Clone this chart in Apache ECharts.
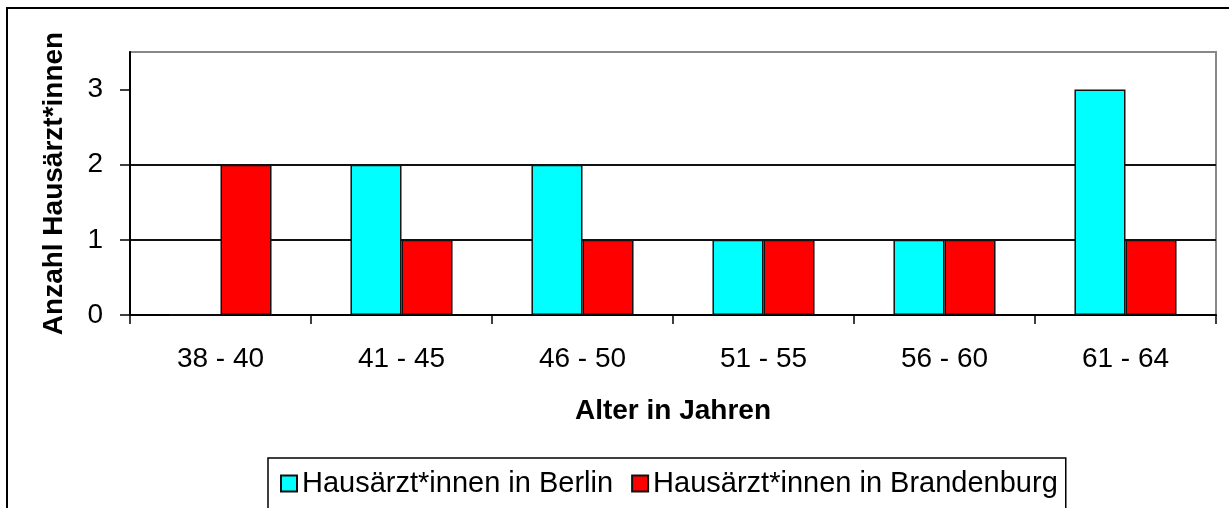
<!DOCTYPE html>
<html>
<head>
<meta charset="utf-8">
<script src="https://cdn.jsdelivr.net/npm/echarts@6/dist/echarts.min.js"></script>
<style>
html,body{margin:0;padding:0;background:#fff;}
#chart{width:1229px;height:508px;}
</style>
</head>
<body>
<div id="chart"></div>
<script>
const categories = ['38 - 40', '41 - 45', '46 - 50', '51 - 55', '56 - 60', '61 - 64'];
const berlin = [0, 2, 2, 1, 1, 3];
const brandenburg = [2, 1, 1, 1, 1, 1];
const yTicks = [0, 1, 2, 3];
const seriesNames = ['Hausärzt*innen in Berlin', 'Hausärzt*innen in Brandenburg'];
const xTitle = 'Alter in Jahren';
const yTitle = 'Anzahl Hausärzt*innen';

const FONT = '"Liberation Sans", Arial, sans-serif';
const chart = echarts.init(document.getElementById('chart'), null, {renderer: 'canvas'});
chart.setOption({
  animation: false,
  backgroundColor: '#fff',
  textStyle: {fontFamily: FONT},
  graphic: [{
    type: 'rect',
    shape: {x: 7, y: 8, width: 1240, height: 520},
    style: {fill: 'none', stroke: '#000', lineWidth: 2},
    silent: true, z: -1
  }],
  grid: {
    left: 130, right: 13, top: 52, bottom: 193,
    show: true, borderColor: '#888', borderWidth: 2, backgroundColor: '#fff'
  },
  legend: {
    left: 268, top: 458,
    padding: [11, 8, 11, 12],
    itemGap: 18,
    itemWidth: 16, itemHeight: 16,
    icon: 'rect',
    borderColor: '#000', borderWidth: 1.5,
    textStyle: {fontSize: 29, color: '#000', fontFamily: FONT},
    data: seriesNames
  },
  xAxis: {
    type: 'category',
    data: categories,
    boundaryGap: true,
    name: xTitle,
    nameLocation: 'middle',
    nameGap: 82,
    nameTextStyle: {fontSize: 28, fontWeight: 'bold', color: '#000', fontFamily: FONT},
    axisLine: {show: true, lineStyle: {color: '#000', width: 2}},
    axisTick: {show: true, length: 9, lineStyle: {color: '#000', width: 1.5}, alignWithLabel: false},
    axisLabel: {fontSize: 28, color: '#000', margin: 30, fontFamily: FONT},
    splitLine: {show: false}
  },
  yAxis: {
    type: 'value',
    min: 0, max: 3.5, interval: 1,
    name: yTitle,
    nameLocation: 'middle',
    nameGap: 62,
    nameRotate: 90,
    nameTextStyle: {fontSize: 28, fontWeight: 'bold', color: '#000', fontFamily: FONT},
    axisLine: {show: true, lineStyle: {color: '#000', width: 2}},
    axisTick: {show: true, length: 10, customValues: yTicks, lineStyle: {color: '#000', width: 1.5}},
    axisLabel: {fontSize: 28, color: '#000', margin: 27, customValues: yTicks, fontFamily: FONT},
    splitLine: {show: true, showMaxLine: false, lineStyle: {color: '#111', width: 2}}
  },
  series: [{
    name: seriesNames[0],
    type: 'bar',
    data: berlin,
    barGap: '0%',
    barCategoryGap: '43.6%',
    itemStyle: {color: '#00FFFF', borderColor: '#111', borderWidth: 1.5}
  }, {
    name: seriesNames[1],
    type: 'bar',
    data: brandenburg,
    barGap: '0%',
    barCategoryGap: '43.6%',
    itemStyle: {color: '#FF0000', borderColor: '#111', borderWidth: 1.5}
  }]
});
</script>
</body>
</html>
